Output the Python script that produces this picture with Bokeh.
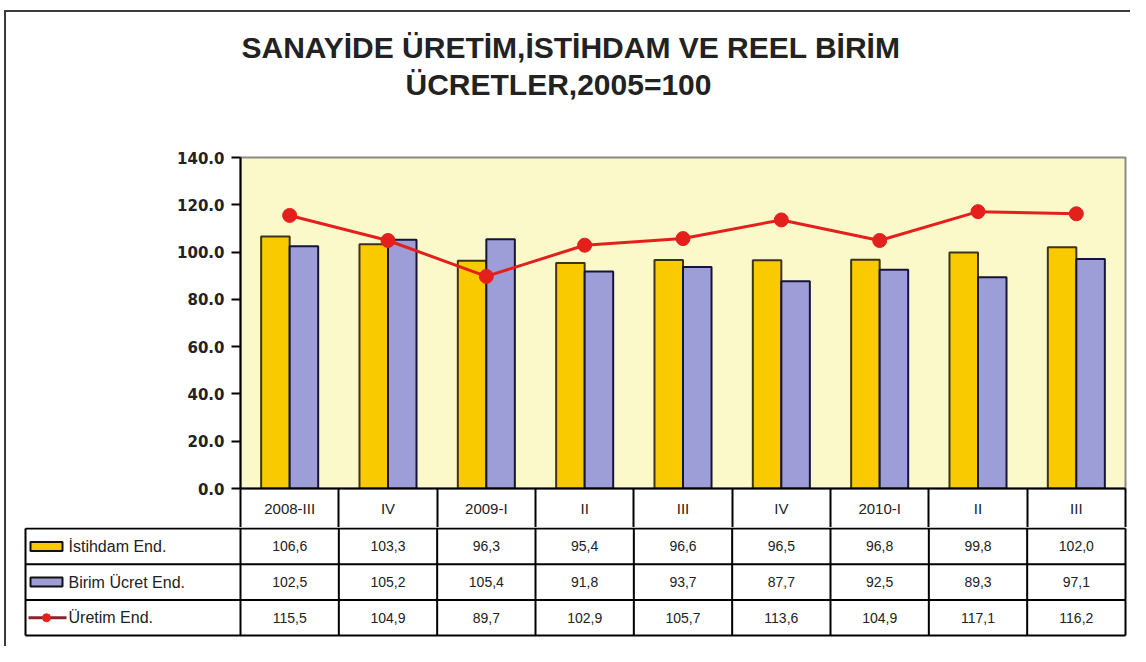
from bokeh.plotting import figure
from bokeh.models import (Range1d, FixedTicker, NumeralTickFormatter, Title,
                          ColumnDataSource)
from bokeh.layouts import column
from bokeh.transform import dodge
from bokeh.core.properties import value
from bokeh.embed import file_html
from bokeh.resources import INLINE

# ---------------- data ----------------
categories = ["2008-III", "IV", "2009-I", "II", "III", "IV", "2010-I", "II", "III"]
istihdam = [106.6, 103.3, 96.3, 95.4, 96.6, 96.5, 96.8, 99.8, 102.0]
birim_ucret = [102.5, 105.2, 105.4, 91.8, 93.7, 87.7, 92.5, 89.3, 97.1]
uretim = [115.5, 104.9, 89.7, 102.9, 105.7, 113.6, 104.9, 117.1, 116.2]
series_names = ["İstihdam  End.", "Birim Ücret End.", "Üretim End."]
y_ticks = [0, 20, 40, 60, 80, 100, 120, 140]
title_line1 = "SANAYİDE ÜRETİM,İSTİHDAM VE REEL BİRİM"
title_line2 = "ÜCRETLER,2005=100"

# ---------------- style / layout ----------------
W = 1130
LEFT = 240
RIGHT = 5
TOP = 157
FRAME_H = 331
HEADER_H = 39
TABLE_H = 119
ROW_H = 36
YELLOW = "#FACA00"
PURPLE = "#9D9DD8"
RED = "#E3201B"
DARK_RED = "#8B2232"
PLOT_BG = "#FBF8CA"
TXT_FONT = "Liberation Sans"
BORDER = "#3a3a3a"

n = len(categories)
xc = [i + 0.5 for i in range(n)]
src = ColumnDataSource(dict(x=xc, ist=istihdam, bir=birim_ucret, ure=uretim))

p = figure(width=W, height=TOP + FRAME_H + HEADER_H,
           x_range=Range1d(0, n), y_range=Range1d(0, 140),
           output_backend="svg", toolbar_location=None,
           min_border_left=LEFT, min_border_right=RIGHT,
           min_border_top=TOP, min_border_bottom=HEADER_H)
p.frame_align = False
p.border_fill_color = None
p.background_fill_color = PLOT_BG
p.outline_line_color = "#8a8a8a"
p.outline_line_width = 2
p.grid.visible = False
g = f"linear-gradient({BORDER},{BORDER})"
p.styles = {"background": f"{g} 4px 10px / 2px calc(100% - 10px) no-repeat, "
                          f"{g} 4px 10px / calc(100% - 4px) 2px no-repeat"}

# spacer between frame and title, then the two title lines (outward order)
p.add_layout(Title(text=" ", text_font_size="1px", standoff=53), "above")
p.add_layout(Title(text=title_line2, align="left", offset=165, standoff=2,
                   text_font=TXT_FONT, text_font_style="bold",
                   text_font_size="30px", text_color="#222222"), "above")
p.add_layout(Title(text=title_line1, align="left", offset=1, standoff=2,
                   text_font=TXT_FONT, text_font_style="bold",
                   text_font_size="30px", text_color="#222222"), "above")

bw = 0.29
p.vbar(x=dodge("x", -bw / 2, range=p.x_range), top="ist", width=bw, source=src,
       fill_color=YELLOW, line_color="#3d3418", line_width=2)
p.vbar(x=dodge("x", bw / 2, range=p.x_range), top="bir", width=bw, source=src,
       fill_color=PURPLE, line_color="#15153a", line_width=2)
p.line(x="x", y="ure", source=src, line_color=RED, line_width=3)
p.scatter(x="x", y="ure", source=src, size=14, fill_color=RED, line_color=RED)

# y axis
ya = p.yaxis[0]
ya.ticker = FixedTicker(ticks=y_ticks)
ya.formatter = NumeralTickFormatter(format="0.0")
ya.axis_line_color = "black"
ya.axis_line_width = 2
ya.major_tick_line_color = "black"
ya.major_tick_line_width = 2
ya.major_tick_out = 9
ya.major_tick_in = 0
ya.minor_tick_line_color = None
ya.major_label_standoff = 7
ya.major_label_text_font = "DejaVu Sans"
ya.major_label_text_font_style = "bold"
ya.major_label_text_font_size = "15px"
ya.major_label_text_color = "#222222"

# x axis acts as the table header row
xa = p.xaxis[0]
xa.ticker = FixedTicker(ticks=xc, minor_ticks=list(range(n + 1)))
xa.major_label_overrides = {xc[i]: categories[i] for i in range(n)}
xa.axis_line_color = "black"
xa.axis_line_width = 2
xa.major_tick_out = 0
xa.major_tick_in = 0
xa.major_tick_line_color = None
xa.minor_tick_in = 0
xa.minor_tick_out = HEADER_H
xa.minor_tick_line_color = "black"
xa.minor_tick_line_width = 2
xa.major_label_standoff = -28
xa.major_label_text_font = TXT_FONT
xa.major_label_text_font_size = "15px"
xa.major_label_text_color = "#222222"

# ---------------- data table ----------------
ppu = (W - LEFT - RIGHT) / n
x0 = -LEFT / ppu
x1 = n + RIGHT / ppu
lab_left = (25 - LEFT) / ppu

t = figure(width=W, height=TABLE_H, x_range=Range1d(x0, x1),
           y_range=Range1d(TABLE_H / ROW_H, -0.03),
           x_axis_type=None, y_axis_type=None,
           output_backend="svg", toolbar_location=None, min_border=0,
           min_border_left=0, min_border_right=0,
           min_border_top=0, min_border_bottom=0)
t.frame_align = False
t.border_fill_color = None
t.background_fill_color = None
t.outline_line_color = None
t.grid.visible = False
t.styles = {"background": f"{g} 4px 0 / 2px 100% no-repeat"}

rows = [0, 1, 2, 3]
t.segment(x0=[lab_left] * 4, x1=[n] * 4, y0=rows, y1=rows,
          line_color="black", line_width=2)
vx = [lab_left] + list(range(n + 1))
t.segment(x0=vx, x1=vx, y0=[0] * len(vx), y1=[3] * len(vx),
          line_color="black", line_width=2)

all_series = [istihdam, birim_ucret, uretim]
tx, ty, tt = [], [], []
for r, s in enumerate(all_series):
    for i, v in enumerate(s):
        tx.append(xc[i])
        ty.append(r + 0.5)
        tt.append(f"{v:.1f}".replace(".", ","))
t.text(x=tx, y=ty, text=tt, text_align="center", text_baseline="middle",
       text_font=value(TXT_FONT), text_font_size="14px", text_color="#222222")

sym_x = lab_left + 21 / ppu
t.rect(x=[sym_x, sym_x], y=[0.5, 1.5], width=32, height=9,
       width_units="screen", height_units="screen",
       fill_color=[YELLOW, PURPLE], line_color="#111111", line_width=2)
t.line(x=[lab_left + 3 / ppu, lab_left + 41 / ppu], y=[2.5, 2.5],
       line_color=DARK_RED, line_width=3)
t.scatter(x=[sym_x], y=[2.5], size=8, fill_color=RED, line_color=RED)
t.text(x=[lab_left + 43 / ppu] * 3, y=[0.5, 1.5, 2.5], text=series_names,
       text_align="left", text_baseline="middle",
       text_font=value(TXT_FONT), text_font_size="16px", text_color="#222222")

layout = column(p, t, spacing=0)
open("out.html", "w").write(file_html(layout, INLINE))
